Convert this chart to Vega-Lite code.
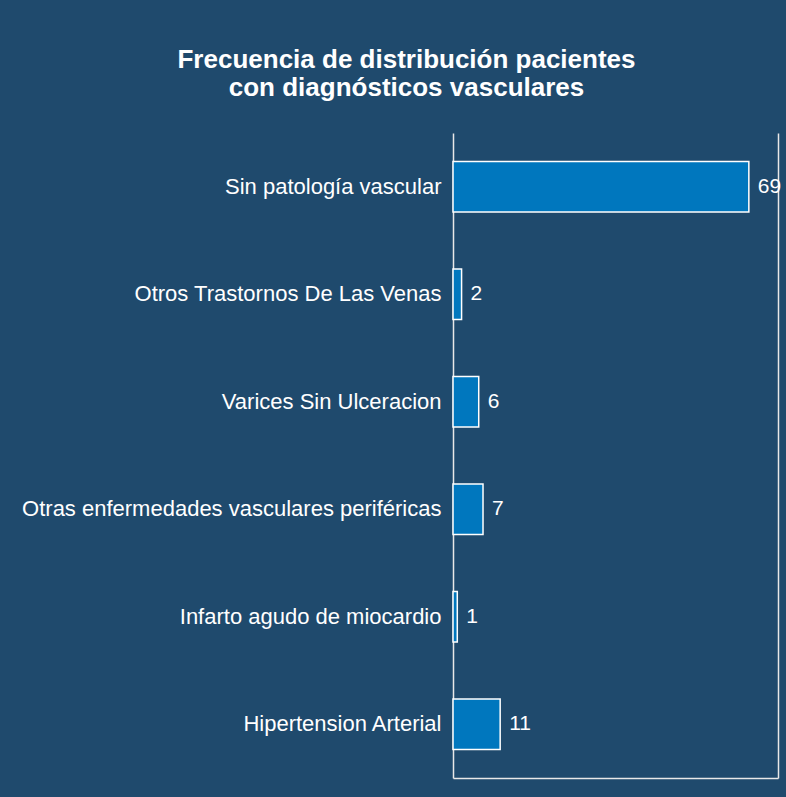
{
  "$schema": "https://vega.github.io/schema/vega-lite/v6.json",
  "width": 325,
  "height": 645,
  "autosize": {"type": "none"},
  "padding": {"left": 453, "top": 133, "right": 8, "bottom": 19},
  "background": "#1f4a6d",
  "config": {
    "font": "Liberation Sans",
    "view": {"stroke": null},
    "axis": {"grid": false, "ticks": false, "domainColor": "#e8e8e8", "domainWidth": 1.5}
  },
  "title": {
    "text": ["Frecuencia de distribución pacientes", "con diagnósticos vasculares"],
    "fontSize": 26,
    "fontWeight": "bold",
    "color": "white",
    "font": "Liberation Sans",
    "anchor": "middle",
    "frame": "group",
    "dx": -209,
    "lineHeight": 28,
    "offset": 32
  },
  "data": {
    "values": [
      {"diagnostico": "Sin patología vascular", "pacientes": 69},
      {"diagnostico": "Otros Trastornos De Las Venas", "pacientes": 2},
      {"diagnostico": "Varices Sin Ulceracion", "pacientes": 6},
      {"diagnostico": "Otras enfermedades vasculares periféricas", "pacientes": 7},
      {"diagnostico": "Infarto agudo de miocardio", "pacientes": 1},
      {"diagnostico": "Hipertension Arterial", "pacientes": 11}
    ]
  },
  "encoding": {
    "y": {
      "field": "diagnostico",
      "type": "nominal",
      "sort": null,
      "scale": {"paddingInner": 0.53, "paddingOuter": 0.265}
    },
    "x": {
      "field": "pacientes",
      "type": "quantitative",
      "scale": {"domain": [0, 75.8], "nice": false, "zero": true}
    }
  },
  "layer": [
    {
      "mark": {"type": "bar", "fill": "#0077be", "stroke": "white", "strokeWidth": 1.5},
      "encoding": {
        "y": {
          "field": "diagnostico",
          "type": "nominal",
          "sort": null,
          "axis": {"orient": "left", "title": null, "labelColor": "white", "labelFontSize": 22, "labelPadding": 12, "labelLimit": 600, "labelFont": "Liberation Sans"}
        },
        "x": {
          "field": "pacientes",
          "type": "quantitative",
          "axis": {"orient": "bottom", "title": null, "labels": false}
        }
      }
    },
    {
      "mark": {"type": "text", "align": "left", "baseline": "middle", "dx": 9, "color": "white", "fontSize": 21, "font": "Liberation Sans"},
      "encoding": {
        "y": {
          "field": "diagnostico",
          "type": "nominal",
          "sort": null,
          "axis": {"orient": "right", "title": null, "labels": false}
        },
        "text": {"field": "pacientes", "type": "quantitative"}
      }
    }
  ],
  "resolve": {"axis": {"y": "independent"}}
}
